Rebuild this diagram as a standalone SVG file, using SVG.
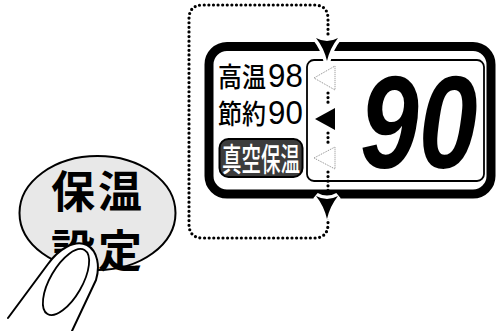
<svg xmlns="http://www.w3.org/2000/svg" width="496" height="331" viewBox="0 0 496 331">
  <style>
    .jp { font-family: "Noto Sans CJK JP", "Noto Sans CJK SC", sans-serif; }
    .num { font-family: "Liberation Sans", Arial, sans-serif; }
    .dots { fill: none; stroke: #000; stroke-width: 3.2; stroke-linecap: round; stroke-dasharray: 0 4.6; }
    .ind { fill: #fff; stroke: #8a8a8a; stroke-width: 1; stroke-dasharray: 1 1; }
    .line { fill: none; stroke: #000; stroke-linecap: round; stroke-linejoin: round; }
  </style>
  <defs>
    <path id="barb" d="M-11,0 Q0,6 11,0 Q3,10 0,23 Q-3,10 -11,0 Z"/>
  </defs>
  <rect width="496" height="331" fill="#fff"/>

  <!-- display unit -->
  <g id="display">
    <rect x="209" y="46.5" width="282" height="147.5" rx="18" fill="#fff" stroke="#000" stroke-width="9"/>
    <rect x="307" y="60" width="177" height="121" rx="7" fill="#fff" stroke="#000" stroke-width="1.8"/>
    <text class="jp" transform="translate(218 87) scale(1 1.12)" font-size="24" font-weight="500" fill="#000">高温</text>
    <text class="num" transform="translate(268 87) scale(0.92 1)" font-size="34" fill="#000">98</text>
    <text class="jp" transform="translate(218 124) scale(1 1.12)" font-size="24" font-weight="500" fill="#000">節約</text>
    <text class="num" transform="translate(268 124) scale(0.92 1)" font-size="34" fill="#000">90</text>
    <rect x="219.5" y="139" width="83" height="38" rx="9" fill="#3c3c3c" stroke="#000" stroke-width="2"/>
    <text class="jp" x="222" y="171" textLength="78" lengthAdjust="spacingAndGlyphs" font-size="32" font-weight="500" fill="#fff">真空保温</text>
    <!-- mode indicators -->
    <polygon class="ind" points="314,78 335,66 335,90"/>
    <polygon points="315,119 335,108 335,130" fill="#000"/>
    <polygon class="ind" points="314,158 335,147 335,169"/>
    <!-- temperature readout -->
    <text class="num" transform="translate(360 168) scale(0.8 1)" font-weight="700" font-style="italic" font-size="132" fill="#000">90</text>
  </g>

  <!-- selection cycle -->
  <g id="connectors">
    <path class="dots" d="M328,218 L328,224 Q328,238 314,238 L203,238 Q189,238 189,224 L189,19 Q189,5 203,5 L314,5 Q328,5 328,19 L328,38"/>
    <path class="dots" d="M328,93 L328,106 M328,133 L328,146 M328,172 L328,196"/>
    <use href="#barb" transform="translate(327 38)" fill="#fff" stroke="#fff" stroke-width="7"/>
    <use href="#barb" transform="translate(327 38)" fill="#000"/>
    <use href="#barb" transform="translate(327 196)" fill="#fff" stroke="#fff" stroke-width="7"/>
    <use href="#barb" transform="translate(327 196)" fill="#000"/>
  </g>

  <!-- keep-warm setting button -->
  <g id="button">
    <ellipse cx="97.5" cy="213" rx="78" ry="57" fill="#e8e8e8" stroke="#000" stroke-width="2"/>
    <text class="jp" x="51" y="208" font-size="44" letter-spacing="3" font-weight="700" fill="#000">保温</text>
    <text class="jp" x="51" y="267" font-size="44" letter-spacing="3" font-weight="700" fill="#000">設定</text>
  </g>

  <!-- pressing finger -->
  <g id="finger">
    <path d="M8,318 L48,264 C58,250 74,239 87,245 C98,251 100,267 96,280 L72,331 L0,331 Z" fill="#fff"/>
    <path class="line" stroke-width="2" d="M8,318 L48,264 C58,250 74,239 87,245 C98,251 100,267 96,280 L72,331"/>
    <ellipse cx="66" cy="282" rx="37" ry="16" transform="rotate(-60 66 282)" fill="#fff" stroke="#000" stroke-width="1.8"/>
  </g>
</svg>
